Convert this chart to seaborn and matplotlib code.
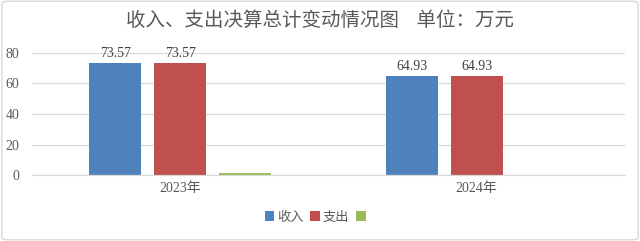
import matplotlib
matplotlib.use("Agg")
import matplotlib.pyplot as plt
import seaborn as sns
import pandas as pd
from matplotlib.patches import FancyBboxPatch, Patch

years = ["2023年", "2024年"]
series = ["收入", "支出", " "]
income = [73.57, 64.93]
expense = [73.57, 64.93]
other = [1.0, 0.0]
colors = ["#4F81BD", "#C0504D", "#9BBB59"]
title = "收入、支出决算总计变动情况图    单位：万元"

rows = []
for i, y in enumerate(years):
    rows.append({"year": y, "series": series[0], "value": income[i]})
    rows.append({"year": y, "series": series[1], "value": expense[i]})
    rows.append({"year": y, "series": series[2], "value": other[i]})
df = pd.DataFrame(rows)

sns.set_theme(style="white")
plt.rcParams["font.family"] = ["Liberation Serif", "Noto Sans CJK SC", "DejaVu Sans"]

fig = plt.figure(figsize=(6.4, 2.41), dpi=100)
ax = fig.add_axes([32/640, 1-175/241, (625-32)/640, (175-53)/241])

sns.barplot(data=df, x="year", y="value", hue="series", hue_order=series,
            palette=colors, width=0.657, gap=0.2, ax=ax, legend=False,
            edgecolor="none", linewidth=0, saturation=1)

ax.set_ylim(0, 80)
ax.set_yticks([0, 20, 40, 60, 80])
ax.set_xlim(-0.5, 1.5)
ax.yaxis.grid(True, color="#D9D9D9", linewidth=0.9)
ax.set_axisbelow(True)
for s in ["top", "right", "left"]:
    ax.spines[s].set_visible(False)
ax.spines["bottom"].set_color("#D9D9D9")
ax.spines["bottom"].set_linewidth(0.9)
ax.tick_params(axis="both", length=0, colors="#595959", labelsize=10)
ax.tick_params(axis="y", pad=9)
ax.tick_params(axis="x", pad=5)
ax.set_xlabel("")
ax.set_ylabel("")

# data labels
for ci, cont in enumerate(ax.containers[:2]):
    ax.bar_label(cont, labels=[f"{v:.2f}" for v in cont.datavalues], padding=2,
                 fontsize=10, color="#404040")

fig.text(0.5, 1-20/241, title, ha="center", va="center", fontsize=14,
         color="#595959", family=["Noto Sans CJK SC", "DejaVu Sans"])

handles = [Patch(facecolor=c, edgecolor="none") for c in colors]
fig.legend(handles, series, loc="center", bbox_to_anchor=(318/640, 1-217/241),
           ncol=3, frameon=False, handlelength=0.75, handleheight=0.75,
           handletextpad=0.2, columnspacing=0.5, labelcolor="#595959",
           prop={"family": ["Noto Sans CJK SC"], "size": 9.5})

border = FancyBboxPatch((0.003, 0.005), 0.994, 0.99, boxstyle="round,pad=0,rounding_size=0.01",
                        transform=fig.transFigure, facecolor="none", edgecolor="#D9D9D9",
                        linewidth=1)
fig.patches.append(border)

fig.savefig("out.png", dpi=100)
